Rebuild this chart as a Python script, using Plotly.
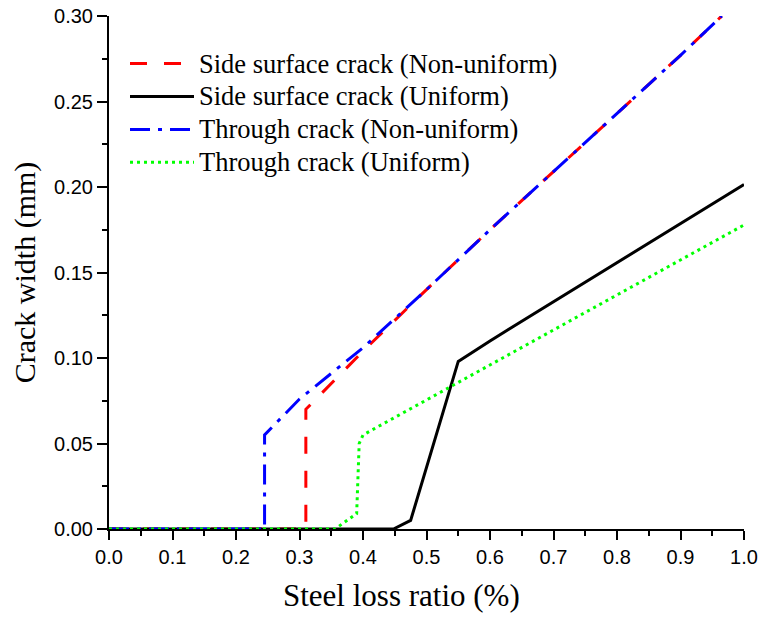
import plotly.graph_objects as go

# Data
red_x = [0.0, 0.31, 0.31, 0.40, 0.50, 0.60, 0.70, 0.80, 0.90, 0.965]
red_y = [0.0, 0.0, 0.070, 0.104, 0.140, 0.175, 0.209, 0.243, 0.277, 0.300]

black_x = [0.0, 0.448, 0.475, 0.55, 0.60, 0.70, 0.80, 0.90, 1.0]
black_y = [0.0, 0.0, 0.005, 0.098, 0.110, 0.133, 0.156, 0.179, 0.2015]

blue_x = [0.0, 0.245, 0.245, 0.30, 0.35, 0.40, 0.45, 0.50, 0.60, 0.70, 0.80, 0.90, 0.965]
blue_y = [0.0, 0.0, 0.055, 0.076, 0.091, 0.106, 0.123, 0.140, 0.175, 0.209, 0.243, 0.277, 0.300]

green_x = [0.0, 0.356, 0.39, 0.394, 0.40, 0.50, 0.60, 0.70, 0.80, 0.90, 1.0]
green_y = [0.0, 0.0, 0.009, 0.050, 0.055, 0.0755, 0.096, 0.1164, 0.1369, 0.1573, 0.1778]

names = ["Side surface crack (Non-uniform)", "Side surface crack (Uniform)",
         "Through crack (Non-uniform)", "Through crack (Uniform)"]

x_ticks = [0.0, 0.1, 0.2, 0.3, 0.4, 0.5, 0.6, 0.7, 0.8, 0.9, 1.0]
y_ticks = [0.00, 0.05, 0.10, 0.15, 0.20, 0.25, 0.30]

x_title = "Steel loss ratio (%)"
y_title = "Crack width (mm)"

serif = "Liberation Serif"
sans = "Liberation Sans"


def lname(s):
    return f'<span style="font-size:26.5px">{s}</span>'


fig = go.Figure()
fig.add_trace(go.Scatter(x=red_x, y=red_y, mode="lines", name=lname(names[0]),
                         line=dict(color="#FF0000", width=3, dash="17px,17px")))
fig.add_trace(go.Scatter(x=black_x, y=black_y, mode="lines", name=lname(names[1]),
                         line=dict(color="#000000", width=3)))
fig.add_trace(go.Scatter(x=blue_x, y=blue_y, mode="lines", name=lname(names[2]),
                         line=dict(color="#0000FF", width=3, dash="20px,8px,4px,8px")))
fig.add_trace(go.Scatter(x=green_x, y=green_y, mode="lines", name=lname(names[3]),
                         line=dict(color="#00FF00", width=3, dash="3px,4px")))

axis_common = dict(
    showgrid=False, zeroline=False, showline=True, linecolor="black", linewidth=2,
    ticks="outside", tickcolor="black", tickwidth=1.5, mirror=False,
    tickfont=dict(family=sans, size=20, color="black"), layer="below traces",
)

fig.update_xaxes(
    range=[0, 1.0], tickvals=x_ticks, ticktext=[f"{v:.1f}" for v in x_ticks], ticklen=9,
    minor=dict(dtick=0.05, ticks="outside", ticklen=5, tickcolor="black", tickwidth=1.5),
    **axis_common,
)
fig.update_yaxes(
    range=[0, 0.30], tickvals=y_ticks, ticktext=[f"{v:.2f}" for v in y_ticks], ticklen=10,
    minor=dict(dtick=0.025, ticks="outside", ticklen=5, tickcolor="black", tickwidth=1.5),
    title=dict(text=y_title, font=dict(family=serif, size=30, color="black"), standoff=10),
    **axis_common,
)

fig.add_annotation(
    text=x_title, xref="paper", yref="paper", x=0.4614, y=0,
    xanchor="center", yanchor="middle", yshift=-66, showarrow=False,
    font=dict(family=serif, size=31, color="black"),
)

fig.update_layout(
    width=765, height=618,
    margin=dict(l=109, r=21, t=16, b=89, autoexpand=False),
    paper_bgcolor="white", plot_bgcolor="white",
    showlegend=True,
    legend=dict(x=0.0252, y=0.9490, xanchor="left", yanchor="top",
                font=dict(family=serif, size=23, color="black"),
                bgcolor="rgba(0,0,0,0)", itemwidth=64, tracegroupgap=0),
)

fig.write_html("out.html")
